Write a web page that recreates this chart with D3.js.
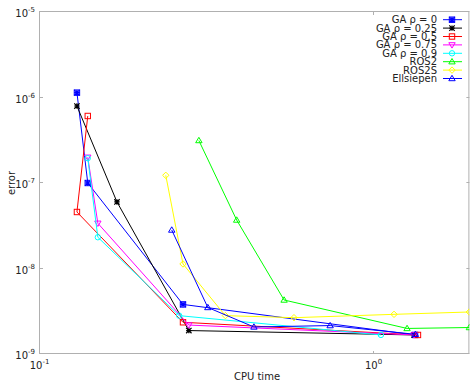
<!DOCTYPE html>
<html>
<head>
<meta charset="utf-8">
<script src="https://cdn.jsdelivr.net/npm/d3@7"></script>
<style>
  body { margin: 0; background: #fff; }
  svg { display: block; font-family: "DejaVu Sans", sans-serif; }
</style>
</head>
<body>
<svg id="chart" width="470" height="382"></svg>
<script>
// series: CPU time vs error
var names = ["GA \u03c1 = 0", "GA \u03c1 = 0.25", "GA \u03c1 = 0.5", "GA \u03c1 = 0.75", "GA \u03c1 = 0.9", "ROS2", "ROS2S", "Ellsiepen"];
var colors = ["#0000ff", "#000000", "#ff0000", "#ff00ff", "#00ffff", "#00ff00", "#ffff00", "#0000ff"];
var markers = ["sqstar", "star", "square", "tridown", "circle", "triup", "diamond", "triup"];

var ga0X = [0.129, 0.139, 0.268, 1.327];
var ga0Y = [1.14e-6, 1.0e-7, 3.8e-9, 1.67e-9];
var ga025X = [0.129, 0.170, 0.279, 1.318];
var ga025Y = [7.95e-7, 6.0e-8, 1.88e-9, 1.67e-9];
var ga05X = [0.139, 0.129, 0.268, 1.354];
var ga05Y = [6.08e-7, 4.58e-8, 2.35e-9, 1.67e-9];
var ga075X = [0.139, 0.149, 0.279, 1.318];
var ga075Y = [2.0e-7, 3.38e-8, 2.18e-9, 1.67e-9];
var ga09X = [0.139, 0.149, 0.261, 1.049];
var ga09Y = [1.95e-7, 2.32e-8, 2.81e-9, 1.67e-9];
var ros2X = [0.299, 0.388, 0.538, 1.256, 1.93];
var ros2Y = [3.14e-7, 3.69e-8, 4.28e-9, 1.99e-9, 2.04e-9];
var ros2sX = [0.238, 0.268, 0.359, 0.576, 1.148, 1.93];
var ros2sY = [1.23e-7, 1.13e-8, 2.81e-9, 2.66e-9, 2.91e-9, 3.1e-9];
var ellX = [0.248, 0.318, 0.437, 0.739, 1.33];
var ellY = [2.82e-8, 3.5e-9, 2.07e-9, 2.15e-9, 1.7e-9];

var xTicks = [-1, 0];
var yTicks = [-9, -8, -7, -6, -5];

var seriesX = [ga0X, ga025X, ga05X, ga075X, ga09X, ros2X, ros2sX, ellX];
var seriesY = [ga0Y, ga025Y, ga05Y, ga075Y, ga09Y, ros2Y, ros2sY, ellY];

var svg = d3.select("#chart");
var mLeft = 40, mTop = 12, mBottom = 354;
var decade = 334;
var mRight = mLeft + decade * Math.log10(1.93 / 0.1);

var x = d3.scaleLog().domain([0.1, 1.93]).range([mLeft, mRight]);
var y = d3.scaleLog().domain([1e-9, 1e-5]).range([mBottom, mTop]);

svg.append("defs").append("clipPath").attr("id", "clip")
  .append("rect").attr("x", mLeft).attr("y", mTop).attr("width", mRight - mLeft).attr("height", mBottom - mTop);

// frame
var axisColor = "#b0b0b0";
svg.append("rect").attr("x", mLeft - 0.5).attr("y", mTop - 0.5).attr("width", mRight - mLeft).attr("height", mBottom - mTop)
  .attr("fill", "none").attr("stroke", axisColor).attr("stroke-width", 1);

// ticks + labels
yTicks.forEach(function(p) {
  var yy = Math.round(y(Math.pow(10, p))) - 0.5;
  svg.append("line").attr("x1", mLeft).attr("x2", mLeft + 3).attr("y1", yy).attr("y2", yy).attr("stroke", axisColor);
  svg.append("line").attr("x1", mRight - 3).attr("x2", mRight).attr("y1", yy).attr("y2", yy).attr("stroke", axisColor);
  var t = svg.append("text").attr("x", 35).attr("y", yy + 5).attr("text-anchor", "end")
    .attr("font-size", 10).attr("fill", "#222");
  t.append("tspan").text("10");
  t.append("tspan").attr("font-size", 7).attr("dy", -5).text(String(p));
});
xTicks.forEach(function(p) {
  var xx = Math.round(x(Math.pow(10, p))) - 0.5;
  svg.append("line").attr("x1", xx).attr("x2", xx).attr("y1", mBottom).attr("y2", mBottom - 3).attr("stroke", axisColor);
  svg.append("line").attr("x1", xx).attr("x2", xx).attr("y1", mTop).attr("y2", mTop + 3).attr("stroke", axisColor);
  var t = svg.append("text").attr("x", xx).attr("y", 369).attr("text-anchor", "middle")
    .attr("font-size", 10).attr("fill", "#222");
  t.append("tspan").text("10");
  t.append("tspan").attr("font-size", 7).attr("dy", -5).text(String(p));
});

svg.append("text").attr("x", 257).attr("y", 380).attr("text-anchor", "middle")
  .attr("font-size", 10).attr("fill", "#222").text("CPU time");
svg.append("text").attr("transform", "translate(15,183) rotate(-90)").attr("text-anchor", "middle")
  .attr("font-size", 10).attr("fill", "#222").text("error");

// marker drawing
function drawMarker(g, type, cx, cy, color) {
  var s = 2.7;
  if (type === "square" || type === "sqstar") {
    g.append("rect").attr("x", cx - s).attr("y", cy - s).attr("width", 2 * s).attr("height", 2 * s)
      .attr("fill", "none").attr("stroke", color);
  }
  if (type === "star" || type === "sqstar") {
    var p = "M" + (cx - s) + "," + cy + "H" + (cx + s) + "M" + cx + "," + (cy - s) + "V" + (cy + s) +
      "M" + (cx - s) + "," + (cy - s) + "L" + (cx + s) + "," + (cy + s) +
      "M" + (cx - s) + "," + (cy + s) + "L" + (cx + s) + "," + (cy - s);
    g.append("path").attr("d", p).attr("stroke", color).attr("stroke-width", 1.2).attr("fill", "none");
  }
  if (type === "circle") {
    g.append("circle").attr("cx", cx).attr("cy", cy).attr("r", s).attr("fill", "none").attr("stroke", color);
  }
  if (type === "triup") {
    g.append("path").attr("d", "M" + cx + "," + (cy - s - 0.5) + "L" + (cx + s + 0.5) + "," + (cy + s - 0.5) + "L" + (cx - s - 0.5) + "," + (cy + s - 0.5) + "Z")
      .attr("fill", "none").attr("stroke", color);
  }
  if (type === "tridown") {
    g.append("path").attr("d", "M" + cx + "," + (cy + s + 0.5) + "L" + (cx + s + 0.5) + "," + (cy - s + 0.5) + "L" + (cx - s - 0.5) + "," + (cy - s + 0.5) + "Z")
      .attr("fill", "none").attr("stroke", color);
  }
  if (type === "diamond") {
    g.append("path").attr("d", "M" + cx + "," + (cy - s - 0.5) + "L" + (cx + s + 0.5) + "," + cy + "L" + cx + "," + (cy + s + 0.5) + "L" + (cx - s - 0.5) + "," + cy + "Z")
      .attr("fill", "none").attr("stroke", color);
  }
}

var plot = svg.append("g").attr("clip-path", "url(#clip)");
var line = d3.line().x(function(d) { return x(d[0]); }).y(function(d) { return y(d[1]); });

names.forEach(function(name, i) {
  var pts = seriesX[i].map(function(v, j) { return [v, seriesY[i][j]]; });
  var g = plot.append("g").attr("class", "series");
  g.append("path").datum(pts).attr("d", line).attr("fill", "none")
    .attr("stroke", colors[i]).attr("stroke-width", 1);
  pts.forEach(function(d) {
    drawMarker(g, markers[i], x(d[0]), y(d[1]), colors[i]);
  });
});

// legend
var legend = svg.append("g").attr("class", "legend");
names.forEach(function(name, i) {
  var ly = 19.7 + i * 8.4;
  legend.append("text").attr("x", 437).attr("y", ly + 3.5).attr("text-anchor", "end")
    .attr("font-size", 10).attr("fill", "#222").text(name);
  legend.append("line").attr("x1", 443).attr("x2", 462).attr("y1", ly).attr("y2", ly)
    .attr("stroke", colors[i]).attr("stroke-width", 1);
  drawMarker(legend, markers[i], 452, ly, colors[i]);
});
</script>
</body>
</html>
